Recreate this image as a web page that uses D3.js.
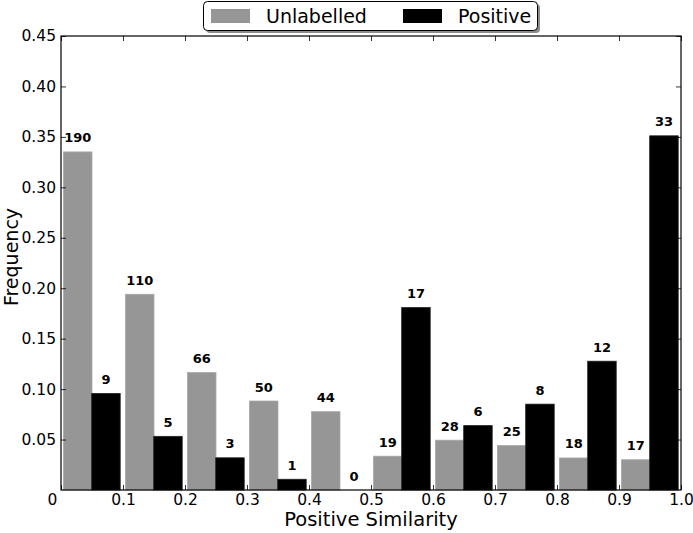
<!DOCTYPE html>
<html>
<head>
<meta charset="utf-8">
<script src="https://cdn.jsdelivr.net/npm/d3@7"></script>
<style>
  body { margin: 0; background: #fff; }
  svg { display: block; font-family: "DejaVu Sans", sans-serif; }
  .tick text { font-size: 15.5px; fill: #000; font-family: "DejaVu Sans", sans-serif; }
</style>
</head>
<body>
<svg id="chart" width="693" height="533"></svg>
<script>
// ---- data ----
const binStarts = [0, 0.1, 0.2, 0.3, 0.4, 0.5, 0.6, 0.7, 0.8, 0.9];
const unlabelledCounts = [190, 110, 66, 50, 44, 19, 28, 25, 18, 17];
const positiveCounts = [9, 5, 3, 1, 0, 17, 6, 8, 12, 33];
const seriesNames = ["Unlabelled", "Positive"];
const xTicks = [0, 0.1, 0.2, 0.3, 0.4, 0.5, 0.6, 0.7, 0.8, 0.9, 1.0];
const xTickLabels = ["0", "0.1", "0.2", "0.3", "0.4", "0.5", "0.6", "0.7", "0.8", "0.9", "1.0"];
const yTicks = [0.05, 0.10, 0.15, 0.20, 0.25, 0.30, 0.35, 0.40, 0.45];

const uTotal = d3.sum(unlabelledCounts);
const pTotal = d3.sum(positiveCounts);
const unlabelledFreq = unlabelledCounts.map(c => c / uTotal);
const positiveFreq = positiveCounts.map(c => c / pTotal);

// ---- layout ----
const W = 693, H = 533;
const m = { left: 61, right: 12, top: 36, bottom: 43 };
const svg = d3.select("#chart");
const x = d3.scaleLinear().domain([0, 1]).range([m.left, W - m.right]);
const y = d3.scaleLinear().domain([0, 0.45]).range([H - m.bottom, m.top]);
const colors = ["#969696", "#000000"];

const barW = 0.046;
const offsets = [0.004, 0.0495];

const g = svg.append("g");

function drawSeries(freqs, counts, idx) {
  const grp = g.append("g");
  grp.selectAll("rect").data(freqs).join("rect")
    .attr("x", (d, i) => x(binStarts[i] + offsets[idx]))
    .attr("width", x(barW) - x(0))
    .attr("y", d => y(d))
    .attr("height", d => y(0) - y(d))
    .attr("fill", colors[idx])
    .attr("stroke", idx === 0 ? "#a8a8a8" : "#222")
    .attr("stroke-width", 0.8);
  grp.selectAll("text").data(freqs).join("text")
    .attr("x", (d, i) => x(binStarts[i] + offsets[idx] + barW / 2))
    .attr("y", d => y(d) - 9.5)
    .attr("text-anchor", "middle")
    .style("font-size", "13px")
    .style("font-weight", "bold")
    .text((d, i) => counts[i]);
}
drawSeries(unlabelledFreq, unlabelledCounts, 0);
drawSeries(positiveFreq, positiveCounts, 1);

// ---- axes ----
const tickLen = 5;
// bottom
const xAxisB = d3.axisBottom(x).tickValues(xTicks).tickSize(-tickLen).tickPadding(4)
  .tickFormat((d, i) => xTickLabels[i]);
const gxb = svg.append("g").attr("transform", `translate(0,${y(0)})`).call(xAxisB);
gxb.attr("font-size", null).attr("font-family", null);
gxb.selectAll("text").attr("dx", (d, i) => i === 0 ? -9 : 0);
// top
svg.append("g").attr("transform", `translate(0,${y(0.45)})`)
  .call(d3.axisTop(x).tickValues(xTicks).tickSize(-tickLen).tickFormat(""));
// left
const yAxisL = d3.axisLeft(y).tickValues(yTicks).tickSize(-tickLen).tickPadding(5)
  .tickFormat(d3.format(".2f"));
const gyl = svg.append("g").attr("transform", `translate(${x(0)},0)`).call(yAxisL);
gyl.attr("font-size", null).attr("font-family", null);
// right
svg.append("g").attr("transform", `translate(${x(1)},0)`)
  .call(d3.axisRight(y).tickValues(yTicks).tickSize(-tickLen).tickFormat(""));

svg.selectAll(".domain").remove();
svg.selectAll(".tick line").attr("stroke", "#000").attr("stroke-width", 0.8);
svg.append("rect").attr("x", x(0)).attr("y", y(0.45))
  .attr("width", x(1) - x(0)).attr("height", y(0) - y(0.45))
  .attr("fill", "none").attr("stroke", "#000").attr("stroke-width", 1.2);

// ---- axis labels ----
svg.append("text").attr("x", (x(0) + x(1)) / 2).attr("y", 526)
  .attr("text-anchor", "middle").style("font-size", "19.5px").text("Positive Similarity");
svg.append("text").attr("transform", `translate(18,257) rotate(-90)`)
  .attr("text-anchor", "middle").style("font-size", "19px").text("Frequency");

// ---- legend ----
const lg = svg.append("g");
lg.append("rect").attr("x", 206).attr("y", 4).attr("width", 334).attr("height", 29)
  .attr("rx", 4).attr("fill", "#8c8c8c");
lg.append("rect").attr("x", 203.5).attr("y", 1.5).attr("width", 334).attr("height", 29)
  .attr("rx", 4).attr("fill", "#fff").attr("stroke", "#000").attr("stroke-width", 1);
const legX = [211, 403];
const legTextX = [266, 458];
seriesNames.forEach((n, i) => {
  lg.append("rect").attr("x", legX[i]).attr("y", 9).attr("width", 39).attr("height", 14)
    .attr("fill", colors[i]);
  lg.append("text").attr("x", legTextX[i]).attr("y", 23).style("font-size", "19px").text(n);
});
</script>
</body>
</html>
